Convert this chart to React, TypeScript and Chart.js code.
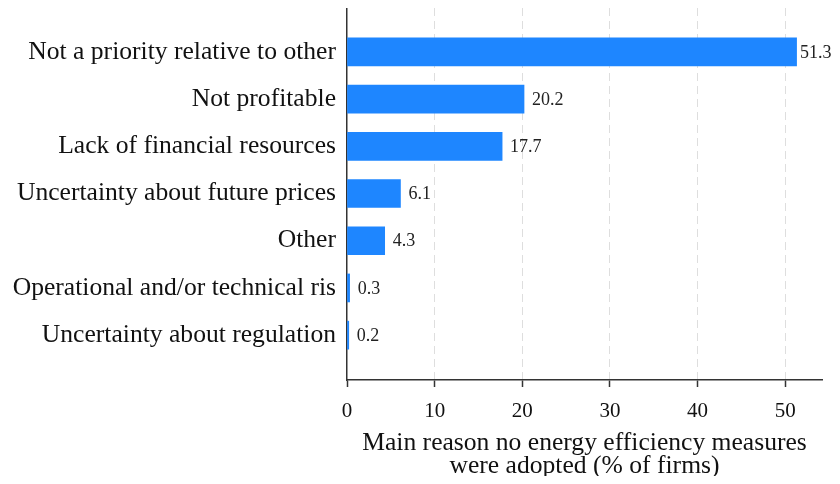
import React, { useEffect, useRef } from "react";
import { Chart, registerables } from "chart.js";

Chart.register(...registerables);

const categories = [
  "Not a priority relative to other",
  "Not profitable",
  "Lack of financial resources",
  "Uncertainty about future prices",
  "Other",
  "Operational and/or technical ris",
  "Uncertainty about regulation",
];
const values = [51.3, 20.2, 17.7, 6.1, 4.3, 0.3, 0.2];
const xTicks = [0, 10, 20, 30, 40, 50];
const xTitle = ["Main reason no energy efficiency measures", "were adopted (% of firms)"];

const FONT = "'Liberation Serif', 'Times New Roman', serif";

const valueLabels = {
  id: "valueLabels",
  afterDatasetsDraw(chart: any) {
    const ctx = chart.ctx;
    const meta = chart.getDatasetMeta(0);
    ctx.save();
    ctx.font = `18px ${FONT}`;
    ctx.fillStyle = "#222";
    ctx.textAlign = "left";
    ctx.textBaseline = "middle";
    meta.data.forEach((el: any, i: number) => {
      const txt = values[i].toFixed(1);
      const w = ctx.measureText(txt).width;
      const x = Math.max(el.x + 3, Math.min(el.x + 8, chart.width - w - 0.5));
      ctx.fillText(txt, x, el.y + 1);
    });
    ctx.restore();
  },
};

export default function App() {
  const ref = useRef<HTMLCanvasElement>(null);
  useEffect(() => {
    if (!ref.current) return;
    const chart = new Chart(ref.current, {
      type: "bar",
      data: {
        datasets: [
          {
            data: values.map((v, i) => ({ x: v, y: i })),
            backgroundColor: "#1E86FF",
            borderWidth: 0,
            barThickness: 28,
          },
        ],
      },
      options: {
        indexAxis: "y",
        animation: false,
        responsive: false,
        layout: { padding: { top: 0, right: 10, bottom: 0, left: 0 } },
        plugins: { legend: { display: false }, tooltip: { enabled: false } },
        scales: {
          x: {
            type: "linear",
            min: 0,
            max: 54.2,
            offset: false,
            afterBuildTicks: (s: any) => {
              s.ticks = xTicks.map((v) => ({ value: v }));
            },
            afterFit: (s: any) => {
              s.height = 96;
              s.paddingLeft = 0;
              s.paddingRight = 0;
            },
            grid: {
              color: (c: any) => (c.tick && c.tick.value === 0 ? "transparent" : "#dedede"),
              lineWidth: 1,
              drawTicks: true,
              tickLength: 7,
              tickColor: "#333",
              tickWidth: 1.5,
            },
            border: { display: true, color: "#333", width: 1.5, dash: [8, 5] },
            ticks: {
              font: { family: FONT, size: 21 },
              color: "#111",
              padding: 12,
              maxRotation: 0,
            },
            title: {
              display: true,
              text: xTitle,
              font: { family: FONT, size: 25.6, lineHeight: "23px" },
              color: "#111",
              padding: { top: 0, bottom: -2 },
            },
          },
          y: {
            type: "linear",
            min: -0.93,
            max: 6.95,
            reverse: true,
            offset: false,
            afterBuildTicks: (s: any) => {
              s.ticks = categories.map((_, i) => ({ value: i }));
            },
            afterFit: (s: any) => {
              s.width = 339;
              s.paddingTop = 0;
              s.paddingBottom = 0;
            },
            grid: { color: "transparent", drawTicks: false, offset: false },
            border: { display: true, color: "#333", width: 1.5 },
            ticks: {
              font: { family: FONT, size: 25.6 },
              color: "#111",
              padding: 11,
              callback: (v: any) => categories[v as number] ?? "",
            },
          },
        },
      },
      plugins: [valueLabels],
    } as any);
    return () => chart.destroy();
  }, []);
  return (
    <div>
      <canvas ref={ref} width={824} height={468} style={{ display: "block" }} />
    </div>
  );
}
